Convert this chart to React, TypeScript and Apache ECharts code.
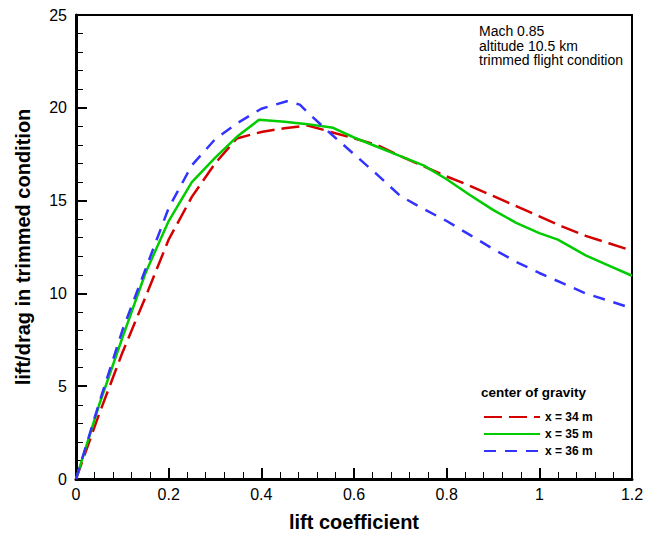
import React, { useEffect, useRef } from "react";
import * as echarts from "echarts";

const seriesNames = ["x = 34 m", "x = 35 m", "x = 36 m"];
const seriesColors = ["#d40000", "#00cc00", "#3333ff"];

const cg34: [number, number][] = [
  [0, 0], [0.05, 3.5], [0.1, 6.8], [0.15, 9.8], [0.2, 12.9], [0.25, 15.2], [0.3, 17.0],
  [0.347, 18.35], [0.4, 18.7], [0.45, 18.9], [0.5, 19.05], [0.55, 18.7], [0.6, 18.35],
  [0.65, 18.0], [0.7, 17.4], [0.75, 16.85], [0.8, 16.3], [0.85, 15.8], [0.9, 15.25],
  [0.95, 14.7], [1.0, 14.15], [1.05, 13.6], [1.1, 13.1], [1.15, 12.7], [1.2, 12.3],
];
const cg35: [number, number][] = [
  [0, 0], [0.05, 4.0], [0.1, 7.6], [0.15, 11.1], [0.2, 13.9], [0.25, 16.0], [0.3, 17.3],
  [0.35, 18.5], [0.395, 19.35], [0.45, 19.25], [0.5, 19.12], [0.555, 18.92], [0.6, 18.4],
  [0.65, 17.9], [0.7, 17.4], [0.75, 16.9], [0.8, 16.15], [0.85, 15.3], [0.9, 14.5],
  [0.95, 13.8], [1.0, 13.25], [1.04, 12.9], [1.1, 12.05], [1.15, 11.5], [1.2, 10.95],
];
const cg36: [number, number][] = [
  [0, 0], [0.05, 4.1], [0.1, 8.0], [0.15, 11.3], [0.2, 14.6], [0.25, 16.9], [0.3, 18.3],
  [0.35, 19.2], [0.4, 19.95], [0.455, 20.35], [0.483, 20.17], [0.5, 19.75], [0.55, 18.6],
  [0.6, 17.5], [0.65, 16.4], [0.7, 15.25], [0.75, 14.55], [0.8, 13.9], [0.85, 13.15],
  [0.9, 12.4], [0.95, 11.7], [1.0, 11.1], [1.05, 10.55], [1.1, 10.0], [1.15, 9.6], [1.2, 9.2],
];
const seriesData = [cg34, cg35, cg36];
const dashes = [[18, 7], "solid", [12, 9]];

const annotationLines = ["Mach 0.85", "altitude 10.5 km", "trimmed flight condition"];
const legendTitle = "center of gravity";
const xAxisName = "lift coefficient";
const yAxisName = "lift/drag in trimmed condition";

export default function App() {
  const ref = useRef<HTMLDivElement>(null);
  useEffect(() => {
    document.body.style.margin = "0";
    if (!ref.current) return;
    const chart = echarts.init(ref.current, null, { renderer: "svg" });
    const font = "Liberation Sans, Arial, sans-serif";
    const frameAxis = {
      type: "value",
      axisLine: { show: true, onZero: false, lineStyle: { color: "#000", width: 2 } },
      axisTick: { show: false },
      minorTick: { show: false },
      axisLabel: { show: false },
      splitLine: { show: false },
    };
    chart.setOption({
      animation: false,
      backgroundColor: "#ffffff",
      textStyle: { fontFamily: font },
      grid: { left: 76, top: 15, right: 30, bottom: 56, show: false },
      xAxis: [
        {
          type: "value", min: 0, max: 1.2, interval: 0.2, position: "bottom",
          name: xAxisName, nameLocation: "middle", nameGap: 33,
          nameTextStyle: { fontSize: 20, fontWeight: "bold", color: "#000", fontFamily: font },
          axisLine: { show: true, onZero: false, lineStyle: { color: "#000", width: 3 } },
          axisTick: { show: true, inside: true, length: 11, lineStyle: { color: "#000", width: 2 } },
          minorTick: { show: true, splitNumber: 5, length: 7, lineStyle: { color: "#000", width: 1 } },
          axisLabel: {
            fontSize: 16, color: "#000", margin: 7, fontFamily: font,
            formatter: (v: number) => String(Math.round(v * 10) / 10),
          },
          splitLine: { show: false },
        },
        { ...frameAxis, min: 0, max: 1.2, position: "top" },
      ],
      yAxis: [
        {
          type: "value", min: 0, max: 25, interval: 5, position: "left",
          name: yAxisName, nameLocation: "middle", nameGap: 43,
          nameTextStyle: { fontSize: 20, fontWeight: "bold", color: "#000", fontFamily: font },
          axisLine: { show: true, onZero: false, lineStyle: { color: "#000", width: 3 } },
          axisTick: { show: true, inside: true, length: 11, lineStyle: { color: "#000", width: 2 } },
          minorTick: { show: true, splitNumber: 5, length: 7, lineStyle: { color: "#000", width: 1 } },
          axisLabel: { fontSize: 16, color: "#000", margin: 9, fontFamily: font },
          splitLine: { show: false },
        },
        { ...frameAxis, min: 0, max: 25, position: "right" },
      ],
      legend: {
        show: true,
        orient: "vertical",
        left: 478,
        top: 406,
        itemWidth: 56,
        itemHeight: 10,
        itemGap: 5,
        data: seriesNames,
        itemStyle: { opacity: 0 },
        textStyle: { fontSize: 12, fontWeight: "bold", color: "#000", fontFamily: font },
      },
      graphic: [
        {
          type: "text", left: 481, top: 385,
          style: { text: legendTitle, font: `bold 13.5px ${font}`, fill: "#000" },
        },
        {
          type: "text", left: 479, top: 24,
          style: { text: annotationLines.join("\n"), font: `14px ${font}`, lineHeight: 14.5, fill: "#000" },
        },
      ],
      series: seriesNames.map((n, i) => ({
        name: n,
        type: "line",
        xAxisIndex: 0,
        yAxisIndex: 0,
        data: seriesData[i],
        showSymbol: false,
        symbol: "none",
        smooth: false,
        lineStyle: { color: seriesColors[i], width: 2.5, type: dashes[i] },
        itemStyle: { color: seriesColors[i] },
      })),
    });
    return () => chart.dispose();
  }, []);
  return <div ref={ref} style={{ width: 662, height: 537 }} />;
}
